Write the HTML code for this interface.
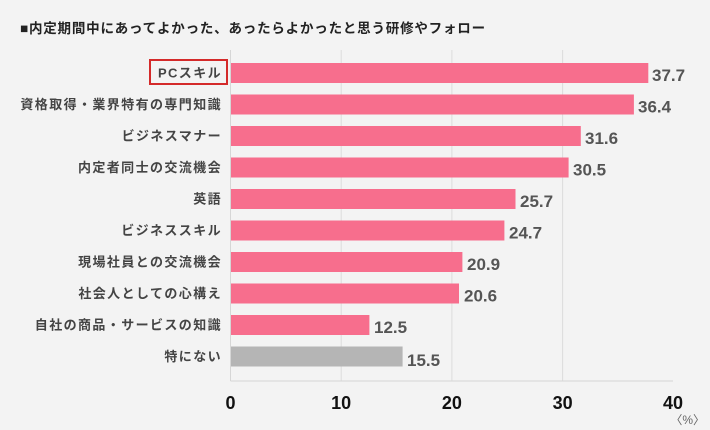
<!DOCTYPE html>
<html><head><meta charset="utf-8"><style>
body{margin:0;background:#f3f3f3;}
svg{display:block;font-family:"Liberation Sans","Noto Sans CJK JP",sans-serif;}
</style></head><body>
<svg width="710" height="430" viewBox="0 0 710 430">
<rect width="710" height="430" fill="#f3f3f3"/>
<text x="20" y="33" font-size="13.5" font-weight="bold" fill="#222" letter-spacing="0.8">■内定期間中にあってよかった、あったらよかったと思う研修やフォロー</text>
<g stroke="#dcdcdc" stroke-width="1">
<line x1="341.2" y1="50" x2="341.2" y2="381"/>
<line x1="451.9" y1="50" x2="451.9" y2="381"/>
<line x1="562.6" y1="50" x2="562.6" y2="381"/>
</g>
<line x1="230.5" y1="50" x2="230.5" y2="381" stroke="#d6d6d6"/>
<line x1="230.5" y1="381" x2="673" y2="381" stroke="#d6d6d6"/>
<g font-size="13" font-weight="bold" fill="#444" text-anchor="end" letter-spacing="1.4">
<text x="222" y="77.5">PCスキル</text>
<text x="222" y="109">資格取得・業界特有の専門知識</text>
<text x="222" y="140.5">ビジネスマナー</text>
<text x="222" y="172">内定者同士の交流機会</text>
<text x="222" y="203.5">英語</text>
<text x="222" y="235">ビジネススキル</text>
<text x="222" y="266.5">現場社員との交流機会</text>
<text x="222" y="298">社会人としての心構え</text>
<text x="222" y="329.5">自社の商品・サービスの知識</text>
<text x="222" y="361">特にない</text>
</g>
<rect x="150" y="60" width="77" height="24" fill="none" stroke="#d42a2a" stroke-width="2"/>
<g fill="#f76e8d">
<rect x="231" y="63" width="417.3" height="20"/>
<rect x="231" y="94.5" width="402.9" height="20"/>
<rect x="231" y="126" width="349.8" height="20"/>
<rect x="231" y="157.5" width="337.6" height="20"/>
<rect x="231" y="189" width="284.5" height="20"/>
<rect x="231" y="220.5" width="273.4" height="20"/>
<rect x="231" y="252" width="231.4" height="20"/>
<rect x="231" y="283.5" width="228.0" height="20"/>
<rect x="231" y="315" width="138.4" height="20"/>
</g>
<rect x="231" y="346.5" width="171.6" height="20" fill="#b5b5b5"/>
<g font-size="17" font-weight="bold" fill="#555">
<text x="652" y="81">37.7</text>
<text x="638" y="112.5">36.4</text>
<text x="585" y="144">31.6</text>
<text x="573" y="175.5">30.5</text>
<text x="520" y="207">25.7</text>
<text x="509" y="238.5">24.7</text>
<text x="467" y="270">20.9</text>
<text x="464" y="301.5">20.6</text>
<text x="374" y="333">12.5</text>
<text x="407" y="366">15.5</text>
</g>
<g font-size="18" font-weight="bold" fill="#111" text-anchor="middle">
<text x="230.5" y="409">0</text>
<text x="341.2" y="409">10</text>
<text x="451.9" y="409">20</text>
<text x="562.6" y="409">30</text>
<text x="673" y="409">40</text>
</g>
<text x="705" y="424" font-size="12" fill="#666" text-anchor="end">〈%〉</text>
</svg>
</body></html>
